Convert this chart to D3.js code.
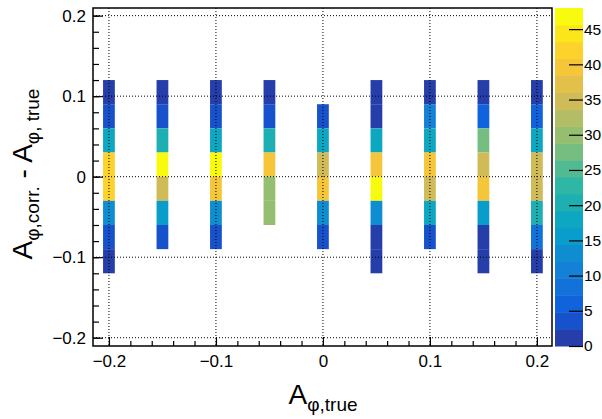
<!DOCTYPE html>
<html>
<head>
<meta charset="utf-8">
<script src="https://cdn.jsdelivr.net/npm/d3@7"></script>
<style>
  body { margin: 0; background: #fff; }
  text { font-family: "Liberation Sans", Arial, sans-serif; }
</style>
</head>
<body>
<div id="chart"></div>
<script>
// --- data --- //
var xCenters = [-0.2, -0.15, -0.1, -0.05, 0, 0.05, 0.1, 0.15, 0.2];
// lower edge of each y bin, top to bottom (bin height 0.03)
var yLows = [0.09, 0.06, 0.03, 0, -0.03, -0.06, -0.09, -0.12];
// counts per column, top bin first (null = empty)
var counts = [
    [1, 4, 18, 42, 42, 13, 4, 1],
    [1, 4, 20.5, 46.5, 35, 15.5, 4, null],
    [1, 4, 18, 46.5, 40, 13, 4, null],
    [1, 4, 20.5, 40, 30, 30, null, null],
    [null, 4, 18, 35, 40, 13, 4, null],
    [1, 1, 18, 40, 46.5, 13, 1, 1],
    [1, 11, 18, 40, 35, 18, 4, null],
    [1, 6, 27.5, 35, 40, 15.5, 1, 1],
    [1, 6, 18, 35, 35, 20.5, 8.5, 1]
];
var xTicks = [-0.2, -0.1, 0, 0.1, 0.2];
var yTicks = [-0.2, -0.1, 0, 0.1, 0.2];
var minorTicks = [-0.2, -0.18, -0.16, -0.14, -0.12, -0.1, -0.08, -0.06, -0.04, -0.02, 0,
    0.02, 0.04, 0.06, 0.08, 0.1, 0.12, 0.14, 0.16, 0.18, 0.2];
var zTicks = [0, 5, 10, 15, 20, 25, 30, 35, 40, 45];
var zMax = 48;
var nContours = 20;
var binW = 0.011, binH = 0.03;

// ROOT kBird palette
var birdStops = [0, 0.125, 0.25, 0.375, 0.5, 0.625, 0.75, 0.875, 1];
var birdRed = [0.2082, 0.0592, 0.0780, 0.0232, 0.1802, 0.5301, 0.8186, 0.9956, 0.9764];
var birdGreen = [0.1664, 0.3599, 0.5041, 0.6419, 0.7178, 0.7492, 0.7328, 0.7862, 0.9832];
var birdBlue = [0.5293, 0.8684, 0.8385, 0.7914, 0.6425, 0.4662, 0.3499, 0.1968, 0.0539];

var bird = d3.scaleLinear()
    .domain(birdStops)
    .range(birdStops.map(function (s, i) {
        return d3.rgb(birdRed[i] * 255, birdGreen[i] * 255, birdBlue[i] * 255);
    }))
    .interpolate(d3.interpolateRgb);

var bandColor = function (b) { return bird((b + 0.99) / nContours); };
var zColor = function (v) {
    var b = Math.floor(v / zMax * nContours);
    b = Math.max(0, Math.min(nContours - 1, b));
    return bandColor(b);
};

// ----- svg, frame, scales ----- //
var W = 602, H = 419;
var fx0 = 93, fx1 = 552, fy0 = 8, fy1 = 346;

var svg = d3.select("#chart")
    .append("svg")
    .attr("width", W)
    .attr("height", H);

svg.append("rect").attr("width", W).attr("height", H).attr("fill", "#fff");

var x = d3.scaleLinear().domain([-0.2149, 0.2141]).range([fx0, fx1]);
var y = d3.scaleLinear().domain([-0.2103, 0.2095]).range([fy1, fy0]);
var z = d3.scaleLinear().domain([0, zMax]).range([fy1, fy0]);

// ----- cells ----- //
var cells = [];
counts.forEach(function (col, i) {
    col.forEach(function (v, j) {
        if (v !== null) cells.push({ xc: xCenters[i], yl: yLows[j], v: v });
    });
});

svg.append("g").selectAll("rect")
    .data(cells)
    .enter()
    .append("rect")
    .attr("x", function (d) { return x(d.xc - binW / 2); })
    .attr("y", function (d) { return y(d.yl + binH); })
    .attr("width", function (d) { return x(d.xc + binW / 2) - x(d.xc - binW / 2); })
    .attr("height", function (d) { return y(d.yl) - y(d.yl + binH); })
    .attr("fill", function (d) { return zColor(d.v); });

// ----- grid ----- //
var grid = svg.append("g")
    .attr("stroke", "#000")
    .attr("stroke-width", 1)
    .attr("stroke-dasharray", "1,2");

grid.selectAll(".gx").data(xTicks).enter().append("line")
    .attr("x1", function (d) { return x(d); }).attr("x2", function (d) { return x(d); })
    .attr("y1", fy0).attr("y2", fy1);

grid.selectAll(".gy").data(yTicks).enter().append("line")
    .attr("y1", function (d) { return y(d); }).attr("y2", function (d) { return y(d); })
    .attr("x1", fx0).attr("x2", fx1);

// ----- axes ----- //
var fmt = function (d) { return Math.abs(d) < 1e-9 ? "0" : d3.format(".1f")(d); };

var xAxisG = svg.append("g").attr("transform", "translate(0," + fy1 + ")");
xAxisG.append("g").call(d3.axisBottom(x).tickValues(minorTicks).tickSize(-5).tickFormat(""));
xAxisG.append("g").call(d3.axisBottom(x).tickValues(xTicks).tickSize(-9).tickPadding(9).tickFormat(fmt));

var yAxisG = svg.append("g").attr("transform", "translate(" + fx0 + ",0)");
yAxisG.append("g").call(d3.axisLeft(y).tickValues(minorTicks).tickSize(-6).tickFormat(""));
yAxisG.append("g").call(d3.axisLeft(y).tickValues(yTicks).tickSize(-10).tickPadding(7).tickFormat(fmt));

svg.selectAll(".domain").remove();
svg.selectAll(".tick line").attr("stroke", "#000").attr("stroke-width", 1.2);
xAxisG.selectAll("text").attr("font-size", 17).attr("font-family", "Liberation Sans, Arial, sans-serif").attr("fill", "#000");
yAxisG.selectAll("text").attr("font-size", 17).attr("font-family", "Liberation Sans, Arial, sans-serif").attr("fill", "#000");

// frame
svg.append("rect")
    .attr("x", fx0).attr("y", fy0)
    .attr("width", fx1 - fx0).attr("height", fy1 - fy0)
    .attr("fill", "none")
    .attr("stroke", "#000")
    .attr("stroke-width", 1.5);

// ----- palette ----- //
var px0 = 555, px1 = 583;
var bands = d3.range(nContours);
svg.append("g").selectAll("rect")
    .data(bands)
    .enter()
    .append("rect")
    .attr("x", px0)
    .attr("width", px1 - px0)
    .attr("y", function (b) { return z((b + 1) * zMax / nContours); })
    .attr("height", function (b) { return z(b * zMax / nContours) - z((b + 1) * zMax / nContours) + 0.5; })
    .attr("fill", function (b) { return bandColor(b); });

var zAxisG = svg.append("g").attr("transform", "translate(" + px1 + ",0)")
    .call(d3.axisRight(z).tickValues(zTicks).tickSize(-14).tickPadding(1));
zAxisG.select(".domain").remove();
zAxisG.selectAll(".tick line").attr("stroke", "#000").attr("stroke-width", 1.2);
zAxisG.selectAll("text").attr("font-size", 15.5).attr("font-family", "Liberation Sans, Arial, sans-serif").attr("fill", "#000");

// ----- titles ----- //
var xt = svg.append("text")
    .attr("x", 323).attr("y", 404)
    .attr("text-anchor", "middle")
    .attr("font-size", 28);
xt.append("tspan").text("A");
xt.append("tspan").attr("font-size", 19).attr("dy", 7).text("\u03c6,true");

var yt = svg.append("text")
    .attr("transform", "translate(32,174) rotate(-90)")
    .attr("text-anchor", "middle")
    .attr("font-size", 28);
yt.append("tspan").text("A");
yt.append("tspan").attr("font-size", 19).attr("dy", 7).text("\u03c6,corr.");
yt.append("tspan").attr("dy", -7).text(" - A");
yt.append("tspan").attr("font-size", 19).attr("dy", 7).text("\u03c6, true");
</script>
</body>
</html>
